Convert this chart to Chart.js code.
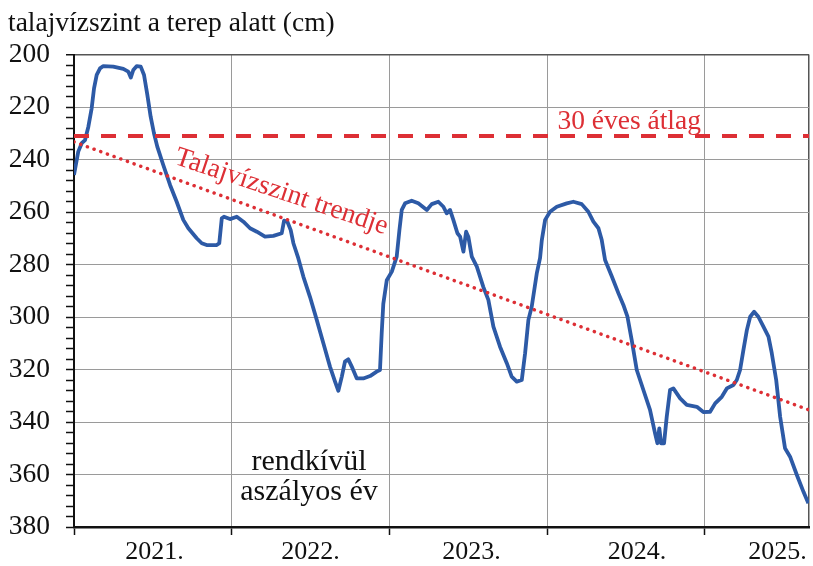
<!DOCTYPE html>
<html>
<head>
<meta charset="utf-8">
<title>talajvízszint</title>
<script src="https://cdn.jsdelivr.net/npm/chart.js@4.4.1/dist/chart.umd.min.js"></script>
<style>
  html, body { margin: 0; padding: 0; background: #fff; }
</style>
</head>
<body>
<canvas id="chart" width="813" height="566"></canvas>
<script>
// Axes
const xMin = 2021;
const xMax = 2025.66;
const yearTicks = [2021, 2022, 2023, 2024, 2025];
const yearLabels = ['2021.', '2022.', '2023.', '2024.', '2025.'];
const yearLabelAt = [2021.51, 2022.5, 2023.52, 2024.57, 2025.46];
const depthMin = 200;
const depthMax = 380;

// Reference lines
const avg30 = 231;              // 30 éves átlag
const trendFrom = 233.3;        // trend at xMin
const trendTo = 335.4;          // trend at xMax

// Groundwater depth below surface (cm)
const time = [
  2021.000, 2021.027, 2021.049, 2021.070, 2021.091, 2021.112, 2021.127, 2021.144, 2021.165, 2021.186,
  2021.249, 2021.313, 2021.344, 2021.360, 2021.376, 2021.398, 2021.423, 2021.444, 2021.465, 2021.486,
  2021.507, 2021.528, 2021.566, 2021.609, 2021.651, 2021.693, 2021.725, 2021.778, 2021.810, 2021.841,
  2021.905, 2021.921, 2021.937, 2021.951, 2021.989, 2022.032, 2022.074, 2022.116, 2022.159, 2022.211,
  2022.264, 2022.317, 2022.332, 2022.353, 2022.374, 2022.391, 2022.422, 2022.454, 2022.496, 2022.539,
  2022.581, 2022.623, 2022.655, 2022.676, 2022.698, 2022.718, 2022.739, 2022.761, 2022.793, 2022.834,
  2022.877, 2022.919, 2022.940, 2022.951, 2022.961, 2022.983, 2023.015, 2023.046, 2023.063, 2023.078,
  2023.099, 2023.141, 2023.183, 2023.237, 2023.268, 2023.310, 2023.342, 2023.363, 2023.384, 2023.405,
  2023.431, 2023.448, 2023.469, 2023.486, 2023.500, 2023.522, 2023.554, 2023.595, 2023.627, 2023.659,
  2023.701, 2023.744, 2023.775, 2023.807, 2023.839, 2023.860, 2023.881, 2023.902, 2023.934, 2023.955,
  2023.966, 2023.987, 2024.018, 2024.061, 2024.124, 2024.166, 2024.219, 2024.261, 2024.293, 2024.325,
  2024.346, 2024.367, 2024.410, 2024.452, 2024.483, 2024.509, 2024.536, 2024.568, 2024.610, 2024.652,
  2024.684, 2024.699, 2024.711, 2024.722, 2024.741, 2024.758, 2024.779, 2024.800, 2024.843, 2024.885,
  2024.949, 2024.990, 2025.033, 2025.065, 2025.107, 2025.139, 2025.181, 2025.202, 2025.223, 2025.244,
  2025.266, 2025.287, 2025.312, 2025.339, 2025.371, 2025.403, 2025.424, 2025.452, 2025.477, 2025.508,
  2025.540, 2025.583, 2025.625, 2025.656
];
const depth = [
  245.9, 237.0, 233.8, 232.6, 227.5, 220.5, 212.9, 207.8, 205.3, 204.4,
  204.6, 205.5, 206.5, 208.8, 205.9, 204.4, 204.6, 207.8, 215.4, 223.7,
  230.0, 235.1, 242.1, 249.7, 256.1, 263.0, 266.2, 270.0, 271.9, 272.6,
  272.6, 271.9, 262.4, 261.8, 262.7, 261.8, 263.7, 266.2, 267.5, 269.4,
  269.1, 268.1, 263.3, 263.7, 266.9, 271.9, 277.6, 284.6, 292.3, 301.1,
  310.0, 318.9, 324.6, 328.1, 322.7, 317.0, 316.1, 318.9, 323.4, 323.4,
  322.5, 320.8, 320.2, 306.0, 295.0, 286.0, 282.7, 277.0, 267.0, 259.2,
  256.7, 255.7, 256.7, 259.2, 257.0, 256.1, 258.0, 260.5, 259.2, 263.0,
  268.1, 269.4, 275.1, 267.5, 269.4, 277.0, 280.8, 288.5, 293.5, 303.7,
  311.3, 317.6, 322.7, 324.6, 324.0, 313.8, 301.1, 296.1, 283.4, 277.5,
  270.7, 263.0, 259.9, 258.0, 256.7, 256.1, 257.0, 259.9, 263.7, 266.2,
  270.7, 278.3, 284.6, 291.0, 295.4, 299.9, 308.8, 320.2, 327.8, 335.4,
  344.3, 348.1, 342.4, 348.1, 348.1, 338.0, 327.8, 327.2, 331.0, 333.5,
  334.2, 336.2, 336.1, 332.9, 330.4, 327.2, 325.9, 324.0, 320.2, 312.6,
  305.0, 299.9, 298.0, 299.9, 303.7, 307.5, 313.8, 324.0, 338.0, 350.0,
  353.2, 360.2, 366.6, 371.0
];

const red = '#dd2f35';
const blue = '#2d5aa6';
const serif = '"Liberation Serif", "Times New Roman", serif';

// Texts placed in data coordinates
const notes = [
  { text: '30 éves átlag', x: 2024.52, y: 228.4, color: red, angle: 0, size: 27.5 },
  { text: 'Talajvízszint trendje', x: 2022.30, y: 255.0, color: red, angle: 18.5, size: 27.5 },
  { text: 'rendkívül', x: 2022.49, y: 358.3, color: '#111', angle: 0, size: 30 },
  { text: 'aszályos év', x: 2022.49, y: 369.7, color: '#111', angle: 0, size: 30 }
];

const notesPlugin = {
  id: 'notes',
  afterDatasetsDraw(chart) {
    const { ctx, scales: { x, y } } = chart;
    ctx.save();
    ctx.textAlign = 'center';
    ctx.textBaseline = 'alphabetic';
    notes.forEach(n => {
      ctx.save();
      ctx.font = n.size + 'px ' + serif;
      ctx.translate(x.getPixelForValue(n.x), y.getPixelForValue(n.y));
      if (n.angle) ctx.rotate(n.angle * Math.PI / 180);
      ctx.fillStyle = n.color;
      ctx.fillText(n.text, 0, 0);
      ctx.restore();
    });
    ctx.restore();
  }
};

const clear = 'rgba(0,0,0,0)';

new Chart(document.getElementById('chart'), {
  type: 'line',
  data: {
    datasets: [
      {
        data: [{ x: xMin, y: avg30 }, { x: xMax, y: avg30 }],
        borderColor: red,
        borderWidth: 4,
        borderDash: [15, 12],
        pointRadius: 0
      },
      {
        data: [{ x: xMin, y: trendFrom }, { x: xMax, y: trendTo }],
        borderColor: red,
        borderWidth: 3.5,
        borderDash: [0.1, 7],
        borderCapStyle: 'round',
        pointRadius: 0
      },
      {
        data: time.map((t, i) => ({ x: t, y: depth[i] })),
        borderColor: blue,
        borderWidth: 3.8,
        borderJoinStyle: 'round',
        pointRadius: 0,
        tension: 0
      }
    ]
  },
  options: {
    responsive: false,
    animation: false,
    devicePixelRatio: 1,
    layout: { padding: { left: 8, right: 4, top: 0, bottom: 0 } },
    plugins: {
      legend: { display: false },
      tooltip: { enabled: false },
      title: {
        display: true,
        text: 'talajvízszint a terep alatt (cm)',
        align: 'start',
        color: '#111',
        font: { family: serif, size: 27.5, weight: 'normal' },
        padding: { top: 7.2, bottom: 14.3 }
      }
    },
    scales: {
      x: {
        type: 'linear',
        min: xMin,
        max: xMax,
        afterBuildTicks: scale => {
          scale.ticks = [...yearTicks, ...yearLabelAt, xMax]
            .sort((a, b) => a - b)
            .map(v => ({ value: v }));
        },
        afterFit: scale => { scale.height = 39; },
        ticks: {
          autoSkip: false,
          maxRotation: 0,
          padding: 2,
          color: '#111',
          font: { family: serif, size: 26 },
          callback: v => {
            const i = yearLabelAt.indexOf(v);
            return i >= 0 ? yearLabels[i] : '';
          }
        },
        grid: {
          tickLength: 8,
          tickWidth: 1.5,
          color: c => {
            const v = c.tick.value;
            if (v === xMax) return '#555';
            return Number.isInteger(v) ? '#9a9a9a' : clear;
          },
          lineWidth: c => (c.tick.value === xMax ? 1.5 : 1),
          tickColor: c => (Number.isInteger(c.tick.value) ? '#111' : clear)
        },
        border: { color: '#111', width: 2.5 }
      },
      y: {
        reverse: true,
        min: depthMin,
        max: depthMax,
        afterFit: scale => { scale.width = 66; },
        ticks: {
          stepSize: 4,
          autoSkip: false,
          padding: 16,
          color: '#111',
          font: { family: serif, size: 27.5 },
          callback: v => (v % 20 === 0 ? String(v) : '')
        },
        grid: {
          tickLength: 8,
          tickWidth: 1.5,
          color: c => {
            const v = c.tick.value;
            if (v === depthMin) return '#555';
            return v % 20 === 0 ? '#9a9a9a' : clear;
          },
          lineWidth: c => (c.tick.value === depthMin ? 1.5 : 1),
          tickColor: '#111'
        },
        border: { color: '#111', width: 2 }
      }
    }
  },
  plugins: [notesPlugin]
});
</script>
</body>
</html>
